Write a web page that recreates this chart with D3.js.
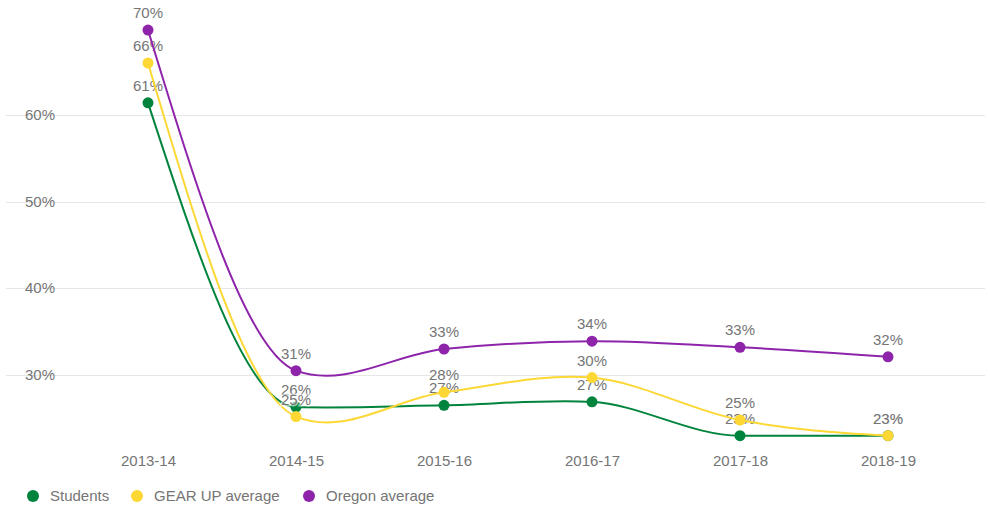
<!DOCTYPE html>
<html>
<head>
<meta charset="utf-8">
<script src="https://cdn.jsdelivr.net/npm/d3@7"></script>
<style>
  body { margin: 0; background: #fff; }
  text { font-family: "Liberation Sans", Arial, sans-serif; }
</style>
</head>
<body>
<div id="chart"></div>
<script>
var years = ["2013-14", "2014-15", "2015-16", "2016-17", "2017-18", "2018-19"];
var students = [61.4, 26.3, 26.5, 26.9, 23.0, 23.0];
var gearUp = [66.0, 25.2, 28.0, 29.7, 24.8, 23.0];
var oregon = [69.8, 30.5, 33.0, 33.9, 33.2, 32.1];
var yTicks = [30, 40, 50, 60];

var series = [
  {name: "Students", values: students, color: "#00843d"},
  {name: "GEAR UP average", values: gearUp, color: "#fdd835"},
  {name: "Oregon average", values: oregon, color: "#8e24aa"}
];

var width = 990, height = 508;

// smooth curve: averaged slopes, clamped near flat neighbours (no zeroing at peaks)
function ClampedSpline(context) {
  this._context = context;
}
ClampedSpline.prototype = {
  areaStart: function() { this._line = 0; },
  areaEnd: function() { this._line = NaN; },
  lineStart: function() { this._x = []; this._y = []; },
  point: function(x, y) { this._x.push(+x); this._y.push(+y); },
  lineEnd: function() {
    var xs = this._x, ys = this._y, n = xs.length, c = this._context;
    if (!n) return;
    c.moveTo(xs[0], ys[0]);
    if (n === 2) { c.lineTo(xs[1], ys[1]); return; }
    var s = [], m = [], i;
    for (i = 0; i < n - 1; i++) s[i] = (ys[i + 1] - ys[i]) / (xs[i + 1] - xs[i]);
    for (i = 1; i < n - 1; i++) {
      var p = (s[i - 1] + s[i]) / 2;
      var lim = 2.5 * Math.min(Math.abs(s[i - 1]), Math.abs(s[i]));
      m[i] = Math.max(-lim, Math.min(lim, p));
    }
    m[0] = (3 * s[0] - m[1]) / 2;
    m[n - 1] = (3 * s[n - 2] - m[n - 2]) / 2;
    for (i = 0; i < n - 1; i++) {
      var h = (xs[i + 1] - xs[i]) / 3;
      c.bezierCurveTo(xs[i] + h, ys[i] + m[i] * h,
                      xs[i + 1] - h, ys[i + 1] - m[i + 1] * h,
                      xs[i + 1], ys[i + 1]);
    }
  }
};
function curveClamped(context) { return new ClampedSpline(context); }

var svg = d3.select("#chart").append("svg")
    .attr("width", width)
    .attr("height", height);

// Scales
var x = d3.scalePoint()
    .domain(years)
    .range([148, 888]);

var y = d3.scaleLinear()
    .domain([30, 60])
    .range([375, 115]);

// Grid lines + y labels
var grid = svg.append("g").attr("class", "grid");
grid.selectAll("line")
    .data(yTicks)
  .enter().append("line")
    .attr("x1", 6)
    .attr("x2", 985)
    .attr("y1", function(d) { return Math.round(y(d)) + 0.5; })
    .attr("y2", function(d) { return Math.round(y(d)) + 0.5; })
    .attr("stroke", "#e6e6e6")
    .attr("stroke-width", 1);

grid.selectAll("text")
    .data(yTicks)
  .enter().append("text")
    .attr("x", 25)
    .attr("y", function(d) { return y(d) + 5; })
    .attr("fill", "#757575")
    .attr("font-size", 15)
    .text(function(d) { return d + "%"; });

// X axis labels
var xAxis = d3.axisBottom(x).tickSize(0).tickPadding(0);
var xg = svg.append("g")
    .attr("transform", "translate(0,455)")
    .call(xAxis);
xg.select(".domain").remove();
xg.selectAll("text")
    .attr("fill", "#757575")
    .attr("font-size", 15)
    .attr("font-family", "Liberation Sans, Arial, sans-serif")
    .attr("dy", "0.75em");

var line = d3.line()
    .x(function(d, i) { return x(years[i]); })
    .y(function(d) { return y(d); })
    .curve(curveClamped);

// Series: line, dots, labels per series
series.forEach(function(s) {
  var g = svg.append("g");
  g.append("path")
      .datum(s.values)
      .attr("d", line)
      .attr("fill", "none")
      .attr("stroke", s.color)
      .attr("stroke-width", 2);

  g.selectAll("circle")
      .data(s.values)
    .enter().append("circle")
      .attr("cx", function(d, i) { return x(years[i]); })
      .attr("cy", function(d) { return y(d); })
      .attr("r", 5.5)
      .attr("fill", s.color);

  g.selectAll("text")
      .data(s.values)
    .enter().append("text")
      .attr("x", function(d, i) { return x(years[i]); })
      .attr("y", function(d) { return y(d) - 12; })
      .attr("text-anchor", "middle")
      .attr("font-size", 15)
      .attr("fill", "#757575")
      .attr("stroke", "#fff")
      .attr("stroke-width", 3)
      .attr("stroke-opacity", 0.6)
      .attr("paint-order", "stroke")
      .text(function(d) { return Math.round(d) + "%"; });
});

// Legend
var legendX = [33, 137, 309];
var legend = svg.append("g").attr("class", "legend");
var items = legend.selectAll("g")
    .data(series)
  .enter().append("g")
    .attr("transform", function(d, i) { return "translate(" + legendX[i] + ",496)"; });
items.append("circle")
    .attr("r", 6)
    .attr("fill", function(d) { return d.color; });
items.append("text")
    .attr("x", 17)
    .attr("y", 5)
    .attr("font-size", 15)
    .attr("fill", "#757575")
    .text(function(d) { return d.name; });
</script>
</body>
</html>
